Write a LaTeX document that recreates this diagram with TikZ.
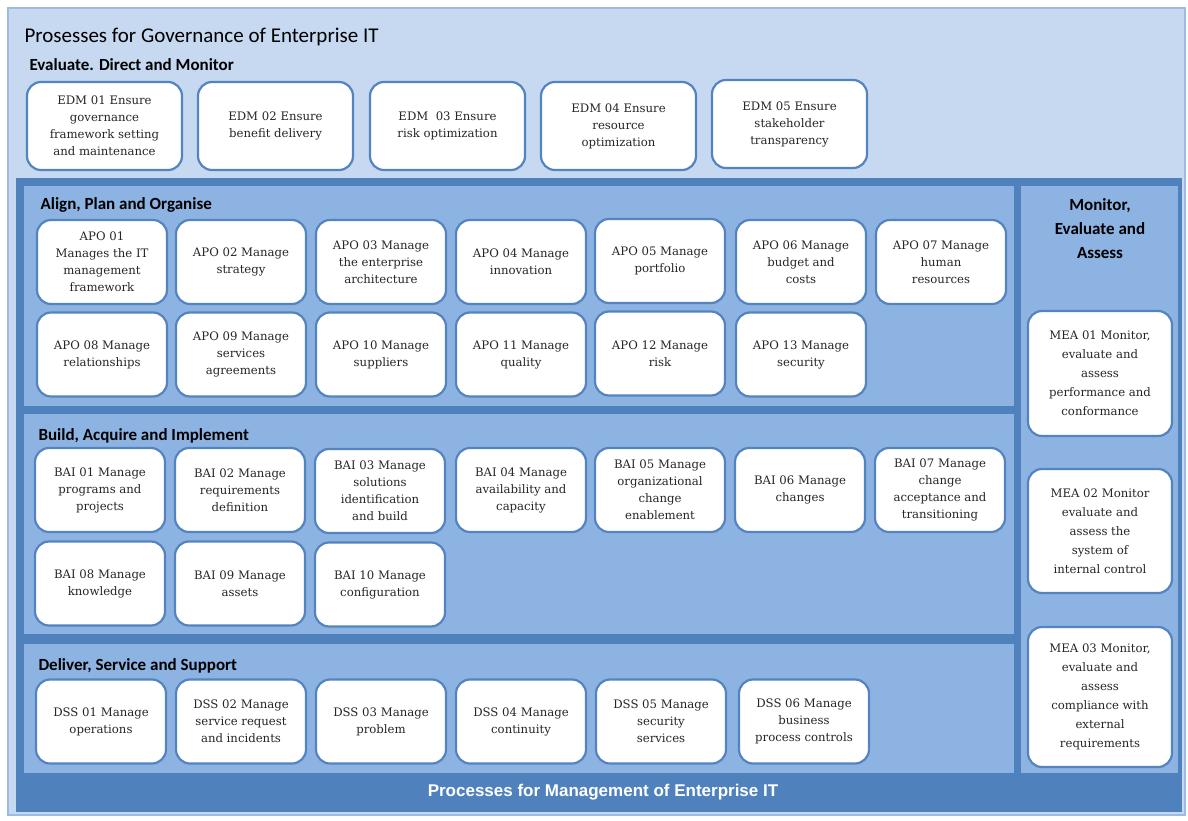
\documentclass[tikz,border=0pt]{standalone}
\usepackage{fontspec}
\setmainfont{DejaVu Serif}
\newfontfamily\headfont{Carlito}
\newfontfamily\bandfont{Liberation Sans}
\definecolor{govlight}{HTML}{C6D9F1}
\definecolor{govedge}{HTML}{9BBBE3}
\definecolor{mgmtdark}{HTML}{4F81BD}
\definecolor{panelblue}{HTML}{8DB3E2}
\definecolor{boxedge}{HTML}{5484C0}
\tikzset{
  procbox/.style={draw=boxedge,line width=2.2pt,fill=white,rounded corners=14pt,align=center,
    font=\fontsize{11.7}{17}\selectfont,text=black!85,inner sep=2pt},
  edmbox/.style={procbox,minimum width=155pt,minimum height=88pt},
  subbox/.style={procbox,minimum width=130pt,minimum height=84pt},
  meabox/.style={procbox,minimum width=144pt,font=\fontsize{11.7}{19}\selectfont},
  domtitle/.style={anchor=base west,font=\headfont\bfseries\fontsize{17}{20}\selectfont},
}
\begin{document}
\begin{tikzpicture}[x=1pt,y=-1pt]
    \useasboundingbox[fill=white] (0,0) rectangle (1188,821);
    %% Governance area
    \draw[fill=govlight,draw=govedge,line width=1.5pt] (8,8) rectangle (1185,815);
    \node[anchor=base west,font=\headfont\fontsize{21}{24}\selectfont] (govtitle) at (21,43) {Prosesses for Governance of Enterprise IT};
    \node[domtitle] (edmtitle) at (26,71) {Evaluate. Direct and Monitor};
    %% EDM processes
    \node[edmbox] (edm01) at (104.5,126) {EDM 01 Ensure\\governance\\framework setting\\and maintenance};
    \node[edmbox] (edm02) at (275.5,126) {EDM 02 Ensure\\benefit delivery};
    \node[edmbox] (edm03) at (447.5,126) {EDM\ \ 03 Ensure\\risk optimization};
    \node[edmbox] (edm04) at (618.5,126) {EDM 04 Ensure\\resource\\optimization};
    \node[edmbox] (edm05) at (789.5,124) {EDM 05 Ensure\\stakeholder\\transparency};
    %% Management area
    \fill[mgmtdark] (16,178) rectangle (1182,812);
    \fill[panelblue] (24,186) rectangle (1014,406);
    \fill[panelblue] (24,414) rectangle (1014,634);
    \fill[panelblue] (24,644) rectangle (1014,773);
    \fill[panelblue] (1021,186) rectangle (1178,773);
    \node[font=\bandfont\bfseries\fontsize{17}{20}\selectfont,text=white] (mgmttitle) at (603,792) {Processes for Management of Enterprise IT};
    %% Align, Plan and Organise
    \node[domtitle] (apotitle) at (37,209) {Align, Plan and Organise};
    \node[subbox] (apo01) at (102,262) {APO 01\\Manages the IT\\management\\framework};
    \node[subbox] (apo02) at (241,262) {APO 02 Manage\\strategy};
    \node[subbox] (apo03) at (381,262) {APO 03 Manage\\the enterprise\\architecture};
    \node[subbox] (apo04) at (521,262) {APO 04 Manage\\innovation};
    \node[subbox] (apo05) at (660,261) {APO 05 Manage\\portfolio};
    \node[subbox] (apo06) at (801,262) {APO 06 Manage\\budget and\\costs};
    \node[subbox] (apo07) at (941,262) {APO 07 Manage\\human\\resources};
    \node[subbox] (apo08) at (102,354.5) {APO 08 Manage\\relationships};
    \node[subbox] (apo09) at (241,354.5) {APO 09 Manage\\services\\agreements};
    \node[subbox] (apo10) at (381,354.5) {APO 10 Manage\\suppliers};
    \node[subbox] (apo11) at (521,354.5) {APO 11 Manage\\quality};
    \node[subbox] (apo12) at (660,353.5) {APO 12 Manage\\risk};
    \node[subbox] (apo13) at (801,354.5) {APO 13 Manage\\security};
    %% Build, Acquire and Implement
    \node[domtitle] (baititle) at (35,440) {Build, Acquire and Implement};
    \node[subbox] (bai01) at (100,490) {BAI 01 Manage\\programs and\\projects};
    \node[subbox] (bai02) at (240,490) {BAI 02 Manage\\requirements\\definition};
    \node[subbox] (bai03) at (380,491) {BAI 03 Manage\\solutions\\identification\\and build};
    \node[subbox] (bai04) at (521,490) {BAI 04 Manage\\availability and\\capacity};
    \node[subbox] (bai05) at (660,490) {BAI 05 Manage\\organizational\\change\\enablement};
    \node[subbox] (bai06) at (800,490) {BAI 06 Manage\\changes};
    \node[subbox] (bai07) at (940,490) {BAI 07 Manage\\change\\acceptance and\\transitioning};
    \node[subbox] (bai08) at (100,583.5) {BAI 08 Manage\\knowledge};
    \node[subbox] (bai09) at (240,583.5) {BAI 09 Manage\\assets};
    \node[subbox] (bai10) at (380,584.5) {BAI 10 Manage\\configuration};
    %% Deliver, Service and Support
    \node[domtitle] (dsstitle) at (35,670) {Deliver, Service and Support};
    \node[subbox] (dss01) at (101,721.5) {DSS 01 Manage\\operations};
    \node[subbox] (dss02) at (241,721.5) {DSS 02 Manage\\service request\\and incidents};
    \node[subbox] (dss03) at (381,721.5) {DSS 03 Manage\\problem};
    \node[subbox] (dss04) at (521,721.5) {DSS 04 Manage\\continuity};
    \node[subbox] (dss05) at (661,721.5) {DSS 05 Manage\\security\\services};
    \node[subbox] (dss06) at (804,721.5) {DSS 06 Manage\\business\\process controls};
    %% Monitor, Evaluate and Assess
    \node[align=center,font=\headfont\bfseries\fontsize{17}{24}\selectfont] (meatitle) at (1100,229) {Monitor,\\Evaluate and\\Assess};
    \node[meabox,minimum height=125pt] (mea01) at (1100,373.5) {MEA 01 Monitor,\\evaluate and\\assess\\performance and\\conformance};
    \node[meabox,minimum height=124pt] (mea02) at (1100,531) {MEA 02 Monitor\\evaluate and\\assess the\\system of\\internal control};
    \node[meabox,minimum height=140pt] (mea03) at (1100,697) {MEA 03 Monitor,\\evaluate and\\assess\\compliance with\\external\\requirements};
\end{tikzpicture}
\end{document}
